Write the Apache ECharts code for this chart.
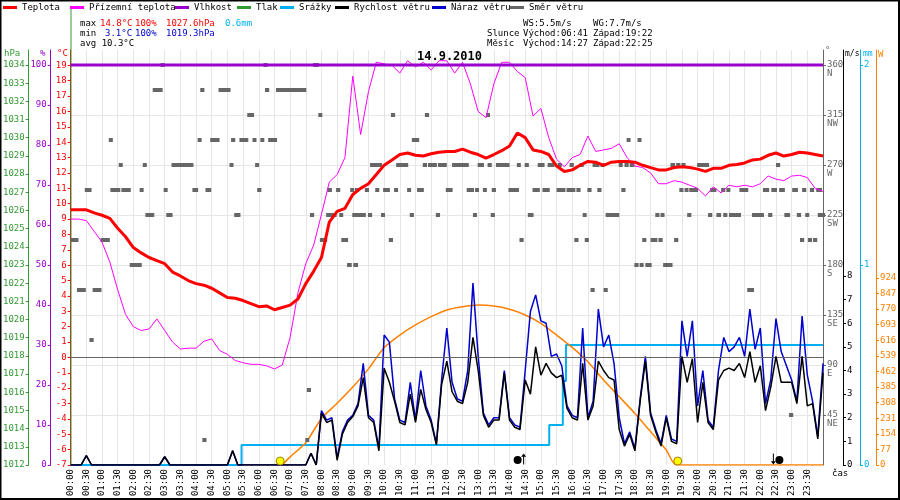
<!DOCTYPE html>
<html>
<head>
<meta charset="utf-8">
<script src="https://cdn.jsdelivr.net/npm/echarts@6/dist/echarts.min.js"></script>
<style>
html, body { margin: 0; padding: 0; background: #fff; }
#chart { width: 900px; height: 500px; }
</style>
</head>
<body>
<div id="chart"></div>
<script>
// teploty po 15 minutach (00:00 .. 24:00)
var teplota = [
 9.6,9.6,9.6,9.4,9.25,9.05,8.4,7.85,7.15,6.8,6.5,6.3,
 6.1,5.55,5.3,5.0,4.8,4.7,4.5,4.2,3.9,3.85,3.7,3.5,
 3.3,3.35,3.1,3.25,3.4,3.8,4.8,5.6,6.5,8.8,9.5,9.7,
 10.6,11.0,11.3,11.9,12.5,12.85,13.2,13.3,13.15,13.1,13.25,13.35,
 13.4,13.4,13.55,13.35,13.2,12.97,13.2,13.45,13.75,14.6,14.3,13.5,
 13.4,13.2,12.45,12.1,12.2,12.5,12.75,12.7,12.5,12.7,12.75,12.75,
 12.7,12.5,12.35,12.2,12.2,12.35,12.4,12.35,12.25,12.1,12.3,12.3,
 12.5,12.55,12.65,12.85,12.9,13.15,13.3,13.1,13.2,13.35,13.3,13.2,
 13.1
];
var prizemni = [
 9.0,9.0,8.9,8.2,7.5,6.2,4.4,2.8,2.0,1.75,1.85,2.5,
 1.75,1.0,0.55,0.6,0.6,1.05,1.2,0.45,0.2,-0.2,-0.35,-0.45,
 -0.45,-0.55,-0.75,-0.5,1.3,4.2,6.1,7.3,9.3,11.4,11.9,13.0,
 18.3,14.5,17.3,19.2,19.1,19.0,18.5,19.3,18.9,19.2,18.7,19.3,
 19.3,18.5,19.2,17.8,16.0,15.6,17.8,19.2,19.2,18.6,18.2,15.7,
 16.2,14.3,12.9,12.4,13.0,13.2,14.4,13.4,13.5,13.6,13.9,13.0,
 12.45,12.35,12.0,11.3,11.3,11.5,11.4,11.2,11.0,10.5,11.1,10.7,
 11.2,11.1,11.2,11.1,11.3,11.8,11.6,11.5,11.8,11.85,11.7,11.0,
 10.8
];
// vitr po 10 minutach (00:00 .. 24:00), m/s
var rychlost = [
 0,0,0,0.4,0,0,0,0,0,0,
 0,0,0,0,0,0,0,0,0.35,0,
 0,0,0,0,0,0,0,0,0,0,
 0,0.6,0,0,0,0,0,0,0,0,
 0,0,0,0,0,0,0.5,0,2.2,1.8,
 1.9,0.2,1.3,1.8,2.05,2.5,3.7,2.0,1.8,0.6,
 4.1,3.5,2.7,1.8,1.7,3.0,1.8,3.2,2.35,1.8,
 0.85,3.4,4.4,3.1,2.7,2.6,3.5,5.4,4.0,2.1,
 1.6,1.9,1.9,3.9,1.9,1.6,1.5,3.6,3.0,5.0,
 3.8,4.3,3.9,3.7,3.8,2.4,2.0,1.9,4.3,1.9,
 2.5,4.4,4.0,3.7,3.6,1.5,0.8,1.3,0.6,2.7,
 4.4,2.1,1.4,0.8,2.0,1.0,0.9,4.6,3.5,4.5,
 1.8,3.5,1.8,1.5,3.6,4.0,4.1,4.0,4.3,3.7,
 4.8,3.5,4.2,2.3,3.3,4.6,3.5,3.5,3.5,2.6,
 4.6,2.5,2.6,1.1,3.9
];
var naraz = [
 0,0,0,0.4,0,0,0,0,0,0,
 0,0,0,0,0,0,0,0,0.35,0,
 0,0,0,0,0,0,0,0,0,0,
 0,0.6,0,0,0,0,0,0,0,0,
 0,0,0,0,0,0,0.5,0,2.3,1.9,
 2.0,0.3,1.4,1.9,2.1,2.6,4.3,2.1,1.9,0.7,
 5.5,5.2,2.8,1.9,1.8,3.5,1.9,4.0,2.5,1.9,
 0.9,3.6,5.8,3.5,2.8,2.7,4.0,7.7,4.6,2.2,
 1.7,2.0,2.0,4.0,2.0,1.7,1.6,4.0,6.5,7.2,
 6.1,6.0,4.6,4.7,4.2,2.5,2.1,2.0,5.8,2.0,
 2.7,6.6,5.0,5.5,4.3,2.0,0.9,1.4,0.7,2.8,
 4.6,2.2,1.5,0.9,2.1,1.1,1.0,6.1,4.6,6.1,
 2.5,4.0,1.9,1.6,4.0,5.4,4.8,5.0,5.4,4.6,
 6.6,4.9,5.8,2.6,3.6,6.2,4.8,4.2,3.6,2.7,
 6.3,3.8,2.7,1.2,4.3
];
// slunecni zareni, W (cas v minutach)
var zareniCas = [405,420,450,480,510,540,570,600,630,660,690,720,750,780,810,840,870,900,930,960,990,1020,1050,1080,1110,1140,1159,1440];
var zareniW   = [0,40,110,230,305,385,475,580,642,692,733,766,782,790,785,769,741,700,642,581,510,420,337,255,165,74,0,0];
// srazky kumulativne, mm
var srazkyCas = [0,327,916,942,948,1440];
var srazkyMm  = [0,0.1,0.2,0.42,0.6,0.6];
var vlhkostCas = [0,1440];
var vlhkost = [100,100];
// smer vetru: [od min, do min, stupne]
var smerVetru = [
 [0,15,202.5],[57,75,202.5],[477,491,202.5],[518,531,202.5],[609,617,202.5],[859,867,202.5],[964,972,202.5],
 [984,991,202.5],[1094,1102,202.5],[1110,1123,202.5],[1125,1133,202.5],[1155,1163,202.5],[1396,1404,202.5],[1411,1419,202.5],[1421,1429,202.5],
 [172,180,360],[369,376,360],[464,475,360],
 [157,176,337.5],[248,256,337.5],[283,306,337.5],[372,380,337.5],[393,451,337.5],
 [338,351,315],[474,481,315],[613,621,315],[678,686,315],[795,802,315],
 [73,80,292.5],[243,250,292.5],[267,285,292.5],[307,315,292.5],[323,340,292.5],[348,355,292.5],[363,370,292.5],[378,395,292.5],
 [653,667,292.5],[1064,1071,292.5],[1085,1092,292.5],
 [92,99,270],[138,145,270],[193,235,270],[304,311,270],[353,359,270],
 [573,596,270],[623,646,270],[674,682,270],[684,701,270],[703,720,270],[730,762,270],[779,791,270],[798,806,270],[814,840,270],
 [854,861,270],[869,877,270],[894,907,270],[913,926,270],[932,940,270],[955,963,270],
 [974,982,270],[999,1012,270],[1014,1022,270],[1049,1056,270],[1060,1068,270],[1070,1079,270],[1148,1157,270],[1159,1167,270],
 [1169,1177,270],[1199,1222,270],[1350,1358,270],
 [27,40,247.5],[76,95,247.5],[97,115,247.5],[132,139,247.5],[178,185,247.5],[233,244,247.5],[258,269,247.5],[357,365,247.5],
 [491,500,247.5],[508,516,247.5],[535,542,247.5],[544,552,247.5],[563,571,247.5],[583,590,247.5],[598,611,247.5],[619,626,247.5],
 [644,651,247.5],[663,676,247.5],[718,731,247.5],[758,772,247.5],[774,781,247.5],[789,796,247.5],[806,814,247.5],[838,858,247.5],
 [884,898,247.5],[903,917,247.5],[930,947,247.5],[949,966,247.5],[968,976,247.5],[989,997,247.5],[1008,1016,247.5],[1054,1062,247.5],
 [1165,1173,247.5],[1175,1182,247.5],[1184,1201,247.5],[1224,1236,247.5],[1245,1253,247.5],[1255,1262,247.5],[1280,1297,247.5],
 [1325,1337,247.5],[1341,1352,247.5],[1356,1367,247.5],[1381,1392,247.5],[1400,1408,247.5],[1415,1423,247.5],[1427,1438,247.5],
 [143,160,225],[183,195,225],[313,325,225],[458,466,225],[489,509,225],[514,521,225],[539,565,225],[569,577,225],[594,600,225],
 [649,657,225],[699,707,225],[770,777,225],[804,812,225],[875,886,225],[980,987,225],[1024,1050,225],[1119,1127,225],[1129,1136,225],
 [1180,1188,225],[1220,1228,225],[1236,1245,225],[1249,1257,225],[1260,1283,225],[1304,1327,225],[1335,1343,225],[1366,1377,225],
 [1390,1398,225],[1406,1411,225],[1430,1444,225],
 [113,136,180],[529,538,180],[541,550,180],[1079,1087,180],[1089,1096,180],[1100,1112,180],[1134,1152,180],
 [12,29,157.5],[42,59,157.5],[995,1003,157.5],[1020,1028,157.5],[1295,1308,157.5],
 [36,44,112.5],[452,460,67.5],[1375,1383,45],[252,260,22.5],[449,456,22.5]
];
var slunceCas = [401, 1162];  // vychod 06:41, zapad 19:22
var mesicCas = [867, 1345];   // vychod 14:27, zapad 22:25
var svetoveStrany = {45:'NE', 90:'E', 135:'SE', 180:'S', 225:'SW', 270:'W', 315:'NW', 360:'N'};

var FONT = 'DejaVu Sans Mono';

function pary(casy, hodnoty) {
    return hodnoty.map(function (v, i) { return [casy[i], v]; });
}
function poKroku(hodnoty, krok) {
    return hodnoty.map(function (v, i) { return [i * krok, v]; });
}
function hhmm(m) {
    var h = Math.floor(m / 60), mi = m % 60;
    return (h < 10 ? '0' : '') + h + ':' + (mi < 10 ? '0' : '') + mi;
}
function rozsah(a, b, k) {
    var out = [];
    for (var v = a; v <= b + 1e-9; v += k) out.push(Math.round(v * 1000) / 1000);
    return out;
}

function osa(pos, offset, min, max, interval, barva, hodnoty, extra) {
    var o = {
        type: 'value', position: pos, offset: offset, min: min, max: max, interval: interval,
        axisLine: { show: true, lineStyle: { color: barva, width: 1 } },
        axisTick: { show: true, length: 3, customValues: hodnoty, lineStyle: { color: barva } },
        axisLabel: {
            customValues: hodnoty, color: barva, fontFamily: FONT, fontSize: 9, margin: 4,
            formatter: function (v) { return String(v); }
        },
        splitLine: { show: false }
    };
    if (extra) {
        for (var k in extra) o[k] = extra[k];
    }
    return o;
}

var labelsLeft = [3, 70, 175, 237, 280, 335, 432, 510];
var legendNames = ['Teplota', 'Přízemní teplota', 'Vlhkost', 'Tlak', 'Srážky', 'Rychlost větru', 'Náraz větru', 'Směr větru'];

function txt(x, y, s, color, extra) {
    var st = { text: s, fill: color || '#000', font: '9px "' + FONT + '"', textVerticalAlign: 'middle' };
    if (extra) { for (var k in extra) st[k] = extra[k]; }
    return { type: 'text', left: x, top: y - 5, style: st, z: 100 };
}

var chart = echarts.init(document.getElementById('chart'));

var option = {
    animation: false,
    backgroundColor: '#fff',
    grid: { left: 70, right: 77, top: 50, bottom: 35 },
    legend: legendNames.map(function (n, i) {
        return {
            data: [{ name: n, icon: 'rect' }], left: labelsLeft[i], top: 3,
            itemWidth: 14, itemHeight: 3, selectedMode: false, padding: 0,
            textStyle: { fontFamily: FONT, fontSize: 9, color: '#000' }
        };
    }),
    xAxis: {
        type: 'value', min: 0, max: 1440, interval: 30,
        axisLine: { lineStyle: { color: '#000' } },
        axisTick: { show: false },
        axisLabel: {
            rotate: 90, fontFamily: FONT, fontSize: 9, color: '#000', margin: 4,
            showMaxLabel: false,
            formatter: function (v) { return v >= 1440 ? '' : hhmm(v); }
        },
        splitLine: { show: true, lineStyle: { color: '#e6e6e6', width: 1 } }
    },
    yAxis: [
        osa('left', 0, -7, 20, 1, '#ff0000', rozsah(-7, 19, 1)),
        osa('left', 20, 0, 103.75, 10, '#9900cc', rozsah(0, 100, 10)),
        osa('left', 42, 1012, 1034.825, 1, '#339933', rozsah(1012, 1034, 1)),
        osa('right', 0, 0, 373.5, 45, '#666666', rozsah(45, 360, 45), {
            splitLine: { show: true, lineStyle: { color: '#e6e6e6', width: 1 } }
        }),
        osa('right', 20, 0, 17.566, 1, '#000000', rozsah(0, 8, 1)),
        osa('right', 37, 0, 2.075, 1, '#00b0f0', rozsah(0, 2, 1)),
        osa('right', 53, 0, 2050, 77, '#ff8000', rozsah(0, 924, 77))
    ],
    series: [
        {
            name: 'Srážky', type: 'line', yAxisIndex: 5, step: 'end', showSymbol: false, z: 2,
            color: '#00b0f0', lineStyle: { width: 2, color: '#00b0f0' },
            data: pary(srazkyCas, srazkyMm)
        },
        {
            name: 'Záření', type: 'line', yAxisIndex: 6, showSymbol: false, smooth: 0.2, z: 3,
            color: '#ff8000', lineStyle: { width: 1.5, color: '#ff8000' },
            data: pary(zareniCas, zareniW)
        },
        {
            name: 'Náraz větru', type: 'line', yAxisIndex: 4, showSymbol: false, z: 4,
            color: '#0000cc', lineStyle: { width: 1.5, color: '#0000cc' },
            data: poKroku(naraz, 10)
        },
        {
            name: 'Rychlost větru', type: 'line', yAxisIndex: 4, showSymbol: false, z: 5,
            color: '#000000', lineStyle: { width: 1.5, color: '#000000' },
            data: poKroku(rychlost, 10)
        },
        {
            name: 'Směr větru', type: 'custom', yAxisIndex: 3, z: 6,
            itemStyle: { color: '#666666' },
            encode: { x: [0, 1], y: 2 },
            renderItem: function (params, api) {
                var a = api.coord([api.value(0), api.value(2)]);
                var b = api.coord([api.value(1), api.value(2)]);
                return {
                    type: 'rect',
                    shape: { x: a[0], y: a[1] - 2, width: Math.max(b[0] - a[0], 4), height: 4 },
                    style: { fill: '#666666' }
                };
            },
            data: smerVetru
        },
        {
            name: 'Tlak', type: 'line', yAxisIndex: 2, showSymbol: false,
            color: '#339933', lineStyle: { color: '#339933' }, data: []
        },
        {
            name: 'Přízemní teplota', type: 'line', yAxisIndex: 0, showSymbol: false, z: 7,
            color: '#ff00ff', lineStyle: { width: 1, color: '#ff00ff' },
            data: poKroku(prizemni, 15)
        },
        {
            name: 'Teplota', type: 'line', yAxisIndex: 0, showSymbol: false, z: 8,
            color: '#ff0000', lineStyle: { width: 3, color: '#ff0000' },
            data: poKroku(teplota, 15),
            markLine: {
                silent: true, symbol: 'none', label: { show: false },
                lineStyle: { color: '#666666', width: 1, type: 'solid' },
                data: [{ yAxis: 0 }]
            }
        },
        {
            name: 'Vlhkost', type: 'line', yAxisIndex: 1, showSymbol: false, z: 9,
            color: '#9900cc', lineStyle: { width: 3, color: '#9900cc' },
            data: pary(vlhkostCas, vlhkost)
        },
        {
            name: 'Slunce', type: 'scatter', yAxisIndex: 6, z: 10,
            symbol: 'circle', symbolSize: 8, symbolOffset: [0, -4],
            itemStyle: { color: '#ffff00', borderColor: '#a08000', borderWidth: 1, opacity: 1 },
            data: slunceCas.map(function (t) { return [t, 0]; })
        },
        {
            name: 'Měsíc', type: 'scatter', yAxisIndex: 6, z: 10,
            symbol: 'circle', symbolSize: 8,
            itemStyle: { color: '#000000', opacity: 1 },
            data: mesicCas.map(function (t, i) {
                return { value: [t, 0], symbolOffset: [i === 0 ? -6 : 6, -5] };
            })
        },
        {
            name: 'Měsíc šipka', type: 'scatter', yAxisIndex: 6, z: 10,
            symbol: 'path://M5,0 L10,6 L6,6 L6,20 L4,20 L4,6 L0,6 Z', symbolSize: [5, 11],
            itemStyle: { color: '#000000', opacity: 1 },
            data: mesicCas.map(function (t, i) {
                return { value: [t, 0], symbolOffset: [0, -6], symbolRotate: i === 0 ? 0 : 180 };
            })
        }
    ],
    graphic: [
        { type: 'rect', shape: { x: 0.5, y: 0.5, width: 898.5, height: 498.5 }, style: { fill: 'none', stroke: '#000', lineWidth: 2 }, z: 100 },
        { type: 'line', shape: { x1: 71, y1: 7, x2: 71, y2: 465 }, style: { stroke: '#339933', lineWidth: 1 }, z: 1 },
        txt(80, 24, 'max'), txt(100, 24, '14.8°C', '#ff0000'), txt(135, 24, '100%', '#ff0000'),
        txt(166, 24, '1027.6hPa', '#ff0000'), txt(225, 24, '0.6mm', '#00b0f0'),
        txt(80, 34, 'min'), txt(105, 34, '3.1°C', '#0000cc'), txt(135, 34, '100%', '#0000cc'),
        txt(166, 34, '1019.3hPa', '#0000cc'),
        txt(80, 44, 'avg 10.3°C'),
        txt(523, 24, 'WS:5.5m/s'), txt(593, 24, 'WG:7.7m/s'),
        txt(487, 34, 'Slunce'), txt(523, 34, 'Východ:06:41'), txt(593, 34, 'Západ:19:22'),
        txt(487, 44, 'Měsíc'), txt(523, 44, 'Východ:14:27'), txt(593, 44, 'Západ:22:25'),
        { type: 'text', left: 417, top: 51, z: 100,
          style: { text: '14.9.2010', fill: '#000', font: 'bold 12px "' + FONT + '"' } },
        txt(4, 54, 'hPa', '#339933'), txt(40, 54, '%', '#9900cc'), txt(57, 54, '°C', '#ff0000'),
        txt(825, 51, '°', '#666666'),
        txt(845, 55, 'm/s', '#000', { font: '8px "' + FONT + '"' }),
        txt(863, 55, 'mm', '#00b0f0', { font: '8px "' + FONT + '"' }),
        txt(878, 55, 'W', '#ff8000'),
        txt(832, 474, 'čas', '#000')
    ]
};

// popisky svetovych stran pod cisly
option.yAxis[3].axisLabel.lineHeight = 9;
option.yAxis[3].axisLabel.formatter = function (v) {
    return '\u00a0\n' + v + '\n' + (svetoveStrany[v] || '');
};

chart.setOption(option);
</script>
</body>
</html>
